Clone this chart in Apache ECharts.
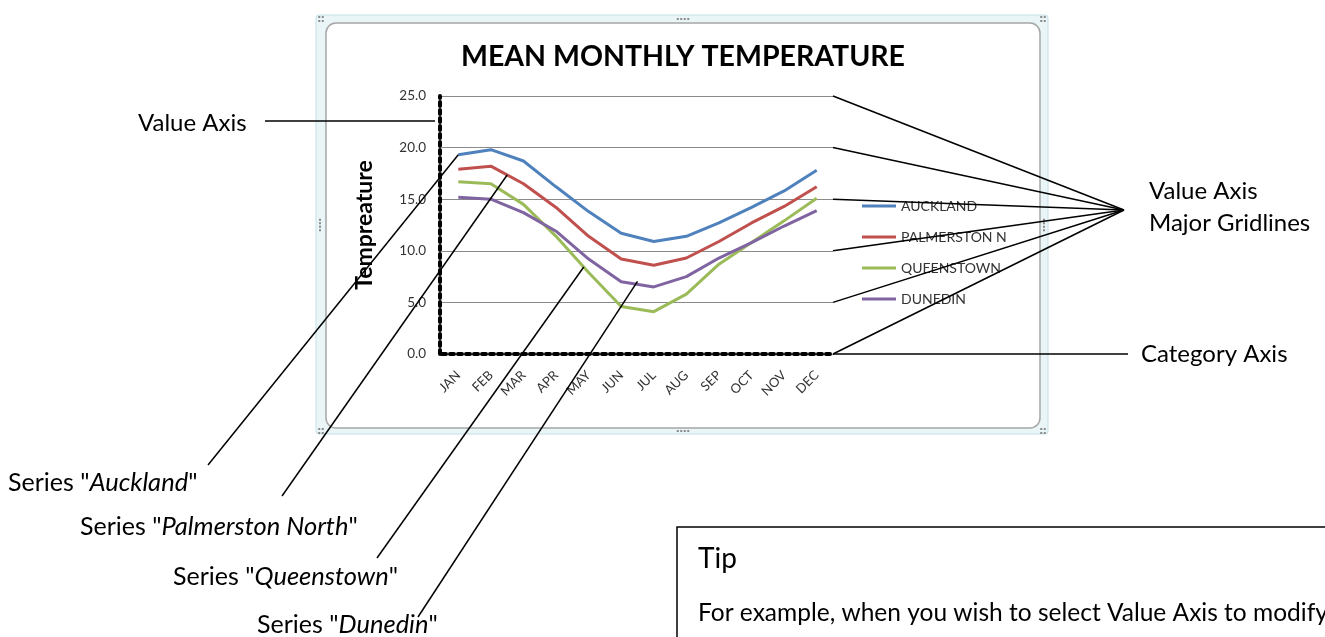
<!DOCTYPE html>
<html><head><meta charset="utf-8">
<script src="https://cdn.jsdelivr.net/npm/echarts/dist/echarts.min.js"></script>
<style>html,body{margin:0;padding:0;background:#fff}#c{width:1325px;height:637px}</style>
</head><body><div id="c"></div>
<script>
const months = ['JAN','FEB','MAR','APR','MAY','JUN','JUL','AUG','SEP','OCT','NOV','DEC'];
const auckland   = [19.3,19.8,18.7,16.2,13.8,11.7,10.9,11.4,12.7,14.2,15.8,17.8];
const palmerston = [17.9,18.2,16.5,14.2,11.4,9.2,8.6,9.3,10.9,12.7,14.3,16.2];
const queenstown = [16.7,16.5,14.5,11.4,7.9,4.6,4.1,5.8,8.7,10.8,12.9,15.1];
const dunedin    = [15.2,15.0,13.7,11.9,9.2,7.0,6.5,7.5,9.3,10.8,12.4,13.9];
const seriesNames = ['AUCKLAND','PALMERSTON N','QUEENSTOWN','DUNEDIN'];
const seriesData = [auckland, palmerston, queenstown, dunedin];
const seriesColors = ['#4F81BD','#C0504D','#9BBB59','#8064A2'];
const gridValues = [25,20,15,10,5];

const FONT = 'Lato';
const chart = echarts.init(document.getElementById('c'), null, {renderer:'canvas'});

const option = {
  backgroundColor: '#ffffff',
  animation: false,
  grid: {left: 442, top: 96, width: 391, height: 258, containLabel: false, outerBoundsMode: 'none'},
  legend: {
    orient: 'vertical', left: 857, top: 194, itemWidth: 34, itemHeight: 3, itemGap: 17,
    icon: 'rect', data: seriesNames,
    textStyle: {fontFamily: FONT, fontSize: 14, color: '#333'}
  },
  xAxis: {
    type: 'category', data: months, boundaryGap: true,
    axisLine: {show: true, lineStyle: {color: '#000', width: 4, type: [4,4]}},
    axisTick: {show: false},
    axisLabel: {rotate: 45, margin: 19, fontFamily: FONT, fontSize: 13, color: '#333', interval: 0},
    splitLine: {show: false}
  },
  yAxis: {
    type: 'value', min: 0, max: 25, interval: 5, offset: 2,
    name: 'Tempreature', nameLocation: 'middle', nameRotate: 90, nameGap: 64,
    nameTextStyle: {fontFamily: FONT, fontSize: 23, fontWeight: 'bold', color: '#000'},
    axisLine: {show: true, lineStyle: {color: '#000', width: 4, type: [4,4]}},
    axisTick: {show: false},
    axisLabel: {margin: 14, fontFamily: FONT, fontSize: 13.5, color: '#333', formatter: v => v.toFixed(1)},
    splitLine: {show: true, lineStyle: {color: '#8a8a8a', width: 1}}
  },
  series: seriesNames.map((n, k) => ({
    name: n, type: 'line', data: seriesData[k], showSymbol: false, symbol: 'none',
    lineStyle: {width: 3, color: seriesColors[k]}, itemStyle: {color: seriesColors[k]}, z: 3
  }))
};
chart.setOption(option);

const px = (i, v) => chart.convertToPixel({gridIndex: 0}, [i, v]);
function along(arr, t) {
  const i = Math.floor(t), f = t - i;
  const a = px(i, arr[i]), b = px(i + 1, arr[i + 1]);
  return [a[0] + (b[0] - a[0]) * f, a[1] + (b[1] - a[1]) * f];
}
const band = px(1, 0)[0] - px(0, 0)[0];
const gridRight = px(11, 0)[0] + band / 2;
const yOf = v => px(0, v)[1];

const g = [];
// chart frame
g.push({type: 'rect', z: -20, shape: {x: 316, y: 15, width: 732, height: 419, r: 3},
  style: {fill: '#eaf5f7', stroke: '#c4dfe6', lineWidth: 1}});
g.push({type: 'rect', z: -19, shape: {x: 326, y: 23, width: 714, height: 405, r: 10},
  style: {fill: '#ffffff', stroke: '#a6a6a6', lineWidth: 1.5}});
// handle dots
function dots(cx, cy, horiz, n) {
  for (let k = 0; k < n; k++) {
    const dx = horiz ? (k - (n - 1) / 2) * 3.5 : 0, dy = horiz ? 0 : (k - (n - 1) / 2) * 3.5;
    g.push({type: 'rect', z: -18, shape: {x: cx + dx - 1, y: cy + dy - 1, width: 2, height: 2}, style: {fill: '#8a8a8a'}});
  }
}
dots(683, 19, true, 4); dots(683, 431, true, 4); dots(320, 225, false, 4); dots(1044, 225, false, 4);
[[321,19],[1043,19],[321,431],[1043,431]].forEach(([x, y]) => { dots(x, y - 2, true, 2); dots(x, y + 2, true, 2); });

// title
g.push({type: 'text', z: 50, x: 683, y: 57, style: {text: 'MEAN MONTHLY TEMPERATURE', fontFamily: FONT,
  fontSize: 28.5, fontWeight: 'bold', fill: '#000', align: 'center', verticalAlign: 'middle'}});

const L = (x1, y1, x2, y2) => g.push({type: 'line', z: 100, shape: {x1, y1, x2, y2}, style: {stroke: '#000', lineWidth: 1.5}});
const T = (x, y, text, size, rich) => g.push({type: 'text', z: 100, x, y, style: {text, fontFamily: FONT, fontSize: size,
  fill: '#000', align: 'left', verticalAlign: 'middle', rich: rich || {}}});
const ital = size => ({i: {fontStyle: 'italic', fontFamily: FONT, fontSize: size, fill: '#000'}});

const FS = 24;
// value axis
T(138, 123, 'Value Axis', FS);
L(265, 121, 435, 121);
// gridlines
const hub = [1124, 210];
gridValues.forEach(v => L(hub[0], hub[1], gridRight, yOf(v)));
L(hub[0], hub[1], gridRight, yOf(0));
T(1149, 191, 'Value Axis', FS);
T(1149, 223, 'Major Gridlines', FS);
// category axis
L(gridRight, yOf(0), 1128, yOf(0));
T(1141, 354, 'Category Axis', FS);
// series pointers
const SF = 25, IT = 25.5;
const pA = px(0, auckland[0]);
L(208, 465, pA[0], pA[1]);
T(8, 483, 'Series "{i|Auckland}"', SF, ital(IT));
const pP = along(palmerston, 1.5);
L(282, 496, pP[0], pP[1]);
T(80, 527, 'Series "{i|Palmerston North}"', SF, ital(IT));
const pQ = along(queenstown, 3.85);
L(377, 558, pQ[0], pQ[1]);
T(173, 577, 'Series "{i|Queenstown}"', SF, ital(IT));
const pD = along(dunedin, 5.5);
L(418, 617, pD[0], pD[1] - 3);
T(257, 625, 'Series "{i|Dunedin}"', SF, ital(IT));

// tip box
g.push({type: 'rect', z: 90, shape: {x: 677, y: 527, width: 700, height: 200}, style: {fill: '#fff', stroke: '#000', lineWidth: 1.5}});
T(698, 559, 'Tip', 28);
T(698, 613, 'For example, when you wish to select Value Axis to modify', 24.5);

chart.setOption({graphic: g});
</script></body></html>
